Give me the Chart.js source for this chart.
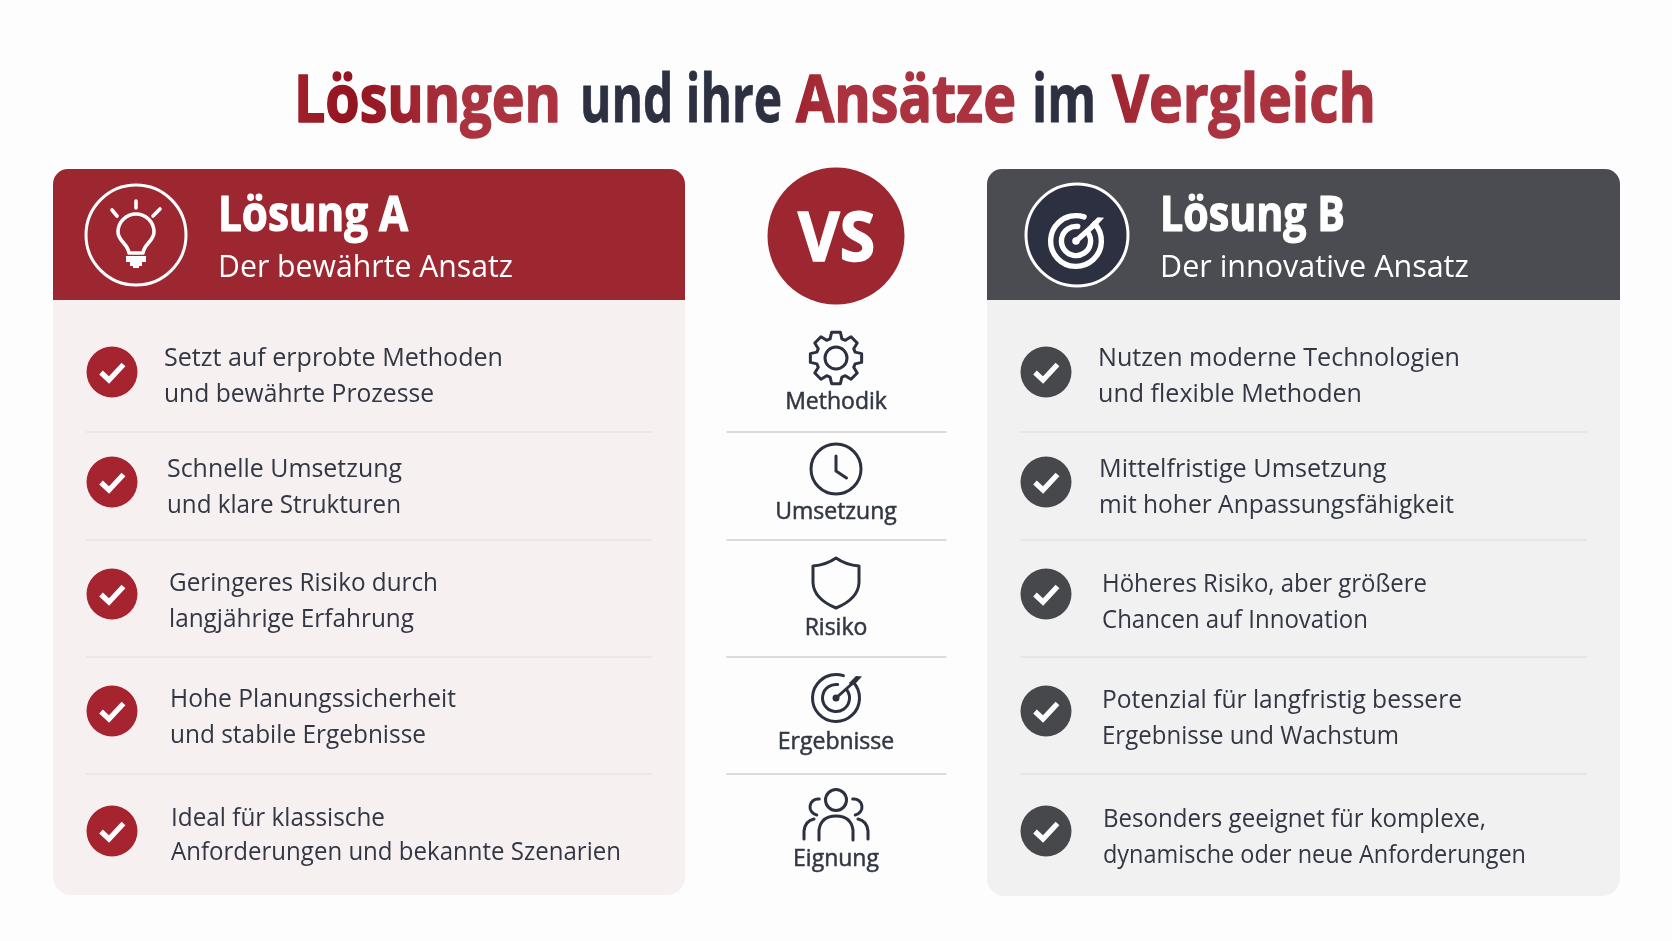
<!DOCTYPE html>
<html lang="de">
<head>
<meta charset="utf-8">
<title>Lösungen und ihre Ansätze im Vergleich</title>
<script src="https://cdn.jsdelivr.net/npm/chart.js@4"></script>
<style>
html, body { margin: 0; padding: 0; background: #fdfdfd; }
canvas { display: block; }
</style>
</head>
<body>
<canvas id="mycanvas" width="1672" height="941"></canvas>
<script>
// data
var titleWords = ['Lösungen', 'und ihre', 'Ansätze', 'im', 'Vergleich'];
var columns = ['Lösung A', 'Kriterium', 'Lösung B'];
var criteria = ['Methodik', 'Umsetzung', 'Risiko', 'Ergebnisse', 'Eignung'];
var taglines = ['Der bewährte Ansatz', 'Der innovative Ansatz'];
var pointsA = [
	['Setzt auf erprobte Methoden', 'und bewährte Prozesse'],
	['Schnelle Umsetzung', 'und klare Strukturen'],
	['Geringeres Risiko durch', 'langjährige Erfahrung'],
	['Hohe Planungssicherheit', 'und stabile Ergebnisse'],
	['Ideal für klassische', 'Anforderungen und bekannte Szenarien']
];
var pointsB = [
	['Nutzen moderne Technologien', 'und flexible Methoden'],
	['Mittelfristige Umsetzung', 'mit hoher Anpassungsfähigkeit'],
	['Höheres Risiko, aber größere', 'Chancen auf Innovation'],
	['Potenzial für langfristig bessere', 'Ergebnisse und Wachstum'],
	['Besonders geeignet für komplexe,', 'dynamische oder neue Anforderungen']
];

// layout of the sheet, in pixels
var FONT = '"Open Sans", sans-serif';
var RED = '#9d2731', GREY = '#4b4c51', INK = '#333744', DARK = '#2c3040';
var stops = {
	x: [112, 836, 1046],
	y: [372, 482, 594, 711, 831],
	yIcon: [358, 469, 583, 698, 815]
};
var rowEdges = [432, 540, 657, 774];
var labelY = [409, 519, 635, 749, 866];
var panels = [
	{ x: 53, w: 632, bottom: 895, head: RED, body: '#f7f0f1', rule: '#e5d9da', ruleX: [86, 652] },
	{ x: 987, w: 633, bottom: 896, head: GREY, body: '#f1f1f2', rule: '#dcdcde', ruleX: [1020, 1587] }
];
var textX = [[164, 167, 169, 170, 171], [1098, 1099, 1102, 1102, 1103]];
var line1Y = [[366, 477, 591, 707, 826], [366, 477, 592, 708, 827]];
var line2Y = [[402, 513, 627, 743, 860], [402, 513, 628, 744, 863]];
// right ends of the text lines
var line1End = [[503, 402, 438, 456, 385], [1460, 1387, 1427, 1462, 1486]];
var line2End = [[434, 401, 414, 426, 621], [1362, 1454, 1368, 1399, 1526]];

// category scale whose categories sit at given pixel stops
class PlacedScale extends Chart.CategoryScale {
	getPixelForValue(value) {
		if (typeof value !== 'number') value = this.parse(value);
		return stops[this.id][value];
	}
}
PlacedScale.id = 'placed';
PlacedScale.defaults = Chart.CategoryScale.defaults;
Chart.register(PlacedScale);

function iconCanvas(size, draw) {
	var c = document.createElement('canvas');
	c.width = size;
	c.height = size;
	var g = c.getContext('2d');
	g.translate(size / 2, size / 2);
	g.lineCap = 'round';
	g.lineJoin = 'round';
	draw(g);
	return c;
}

function checkDisc(colour) {
	return iconCanvas(56, function(g) {
		g.fillStyle = colour;
		g.beginPath();
		g.arc(0, 0, 25.5, 0, Math.PI * 2);
		g.fill();
		g.strokeStyle = '#ffffff';
		g.lineWidth = 5.2;
		g.lineCap = 'butt';
		g.lineJoin = 'miter';
		g.beginPath();
		g.moveTo(-11, 0.5);
		g.lineTo(-3, 8);
		g.lineTo(11.5, -7.5);
		g.stroke();
	});
}

function gearIcon(g) {
	var outer = 26, root = 20, teeth = 8;
	g.beginPath();
	for (var i = 0; i < teeth; i++) {
		var a = -Math.PI / 2 + i * 2 * Math.PI / teeth;
		var pts = [[root, -0.30], [outer, -0.17], [outer, 0.17], [root, 0.30]];
		for (var j = 0; j < pts.length; j++) {
			var px = pts[j][0] * Math.cos(a + pts[j][1]);
			var py = pts[j][0] * Math.sin(a + pts[j][1]);
			if (i === 0 && j === 0) g.moveTo(px, py); else g.lineTo(px, py);
		}
	}
	g.closePath();
	g.stroke();
	g.beginPath();
	g.arc(0, 0, 11, 0, Math.PI * 2);
	g.stroke();
}

function clockIcon(g) {
	g.beginPath();
	g.arc(0, 0, 25, 0, Math.PI * 2);
	g.stroke();
	g.beginPath();
	g.moveTo(0, -13);
	g.lineTo(0, 2);
	g.lineTo(10.5, 9);
	g.stroke();
}

function shieldIcon(g) {
	g.beginPath();
	g.moveTo(0, -25);
	g.quadraticCurveTo(10, -18, 23, -17);
	g.lineTo(23, 0);
	g.quadraticCurveTo(22, 16, 0, 25);
	g.quadraticCurveTo(-22, 16, -23, 0);
	g.lineTo(-23, -17);
	g.quadraticCurveTo(-10, -18, 0, -25);
	g.closePath();
	g.stroke();
}

// target with an arrow, scale 1 is the size of the middle column icon
function targetIcon(g, colour, scale) {
	g.save();
	g.scale(scale, scale);
	g.strokeStyle = colour;
	g.fillStyle = colour;
	g.beginPath();
	g.arc(0, 0, 23.5, -0.75, Math.PI * 2 - 1.25);
	g.stroke();
	g.beginPath();
	g.arc(0, 0, 13.5, -0.6, Math.PI * 2 - 1.45);
	g.stroke();
	g.beginPath();
	g.arc(0, 0, 3.5, 0, Math.PI * 2);
	g.fill();
	g.beginPath();
	g.moveTo(0, 0);
	g.lineTo(18, -16);
	g.stroke();
	g.beginPath();
	g.moveTo(13, -15);
	g.lineTo(20, -22);
	g.lineTo(26, -21.5);
	g.lineTo(20, -15);
	g.lineTo(15, -12);
	g.closePath();
	g.fill();
	g.restore();
}

function peopleIcon(g) {
	g.beginPath();
	g.arc(0, -15, 10.5, 0, Math.PI * 2);
	g.stroke();
	// side heads
	g.beginPath();
	g.arc(-18, -8, 8, Math.PI * 0.55, Math.PI * 1.55);
	g.stroke();
	g.beginPath();
	g.arc(18, -8, 8, -Math.PI * 0.55, Math.PI * 0.45);
	g.stroke();
	// shoulders
	g.beginPath();
	g.moveTo(-17, 25);
	g.lineTo(-17, 15);
	g.quadraticCurveTo(-15, 1, 0, 1);
	g.quadraticCurveTo(15, 1, 17, 15);
	g.lineTo(17, 25);
	g.stroke();
	g.beginPath();
	g.moveTo(-32, 24);
	g.lineTo(-32, 16);
	g.quadraticCurveTo(-31, 6, -22, 4);
	g.stroke();
	g.beginPath();
	g.moveTo(32, 24);
	g.lineTo(32, 16);
	g.quadraticCurveTo(31, 6, 22, 4);
	g.stroke();
}

function middleIcon(draw) {
	return iconCanvas(80, function(g) {
		g.strokeStyle = DARK;
		g.lineWidth = 3;
		draw(g);
	});
}

var icons = [
	middleIcon(gearIcon),
	middleIcon(clockIcon),
	middleIcon(shieldIcon),
	middleIcon(function(g) { targetIcon(g, DARK, 1); }),
	middleIcon(peopleIcon)
];

function bulbIcon(g) {
	g.strokeStyle = '#ffffff';
	g.fillStyle = '#ffffff';
	g.lineCap = 'round';
	g.lineJoin = 'round';
	g.lineWidth = 3.6;
	g.beginPath();
	g.moveTo(129, 253);
	g.bezierCurveTo(128, 244, 118, 241, 118, 232);
	g.arc(136, 232, 18, Math.PI, 0);
	g.bezierCurveTo(154, 241, 144, 244, 143, 253);
	g.closePath();
	g.stroke();
	g.fillRect(126, 256, 20, 6);
	g.fillRect(130, 262, 12, 4);
	g.fillRect(133, 266, 6, 2);
	g.beginPath();
	g.moveTo(136, 201); g.lineTo(136, 208);
	g.moveTo(112, 210); g.lineTo(117, 216);
	g.moveTo(160, 209); g.lineTo(153, 216);
	g.stroke();
}

function rounded(ctx, x, y, w, h, rt, rb) {
	ctx.beginPath();
	ctx.roundRect(x, y, w, h, [rt, rt, rb, rb]);
}

// heavy = width of a stroke that thickens the letters
function word(ctx, text, x, right, y, colour, font, heavy) {
	ctx.font = font;
	ctx.fillStyle = colour;
	ctx.textAlign = 'left';
	ctx.fillText(text, x, y, right - x);
	if (heavy) {
		ctx.strokeStyle = colour;
		ctx.lineWidth = heavy;
		ctx.lineJoin = 'round';
		ctx.strokeText(text, x, y, right - x);
	}
}

function redWord(ctx, x, right) {
	var grad = ctx.createLinearGradient(x, 0, right, 0);
	grad.addColorStop(0, '#ab2a36');
	grad.addColorStop(0.5, '#92141f');
	grad.addColorStop(1, '#ab3340');
	return grad;
}

var sheet = {
	id: 'sheet',
	beforeDatasetsDraw: function(chart) {
		var ctx = chart.ctx;
		ctx.save();
		ctx.fillStyle = '#fdfdfd';
		ctx.fillRect(0, 0, chart.width, chart.height);
		ctx.textBaseline = 'alphabetic';

		// title
		var bold = '700 67px ' + FONT;
		word(ctx, titleWords[0], 294, 561, 122, redWord(ctx, 294, 561), bold, 1.6);
		word(ctx, titleWords[1], 580, 782, 122, DARK, bold, 0.8);
		word(ctx, titleWords[2], 796, 1016, 122, redWord(ctx, 796, 1016), bold, 1.6);
		word(ctx, titleWords[3], 1032, 1096, 122, DARK, bold, 0.8);
		word(ctx, titleWords[4], 1112, 1376, 122, redWord(ctx, 1112, 1376), bold, 1.6);

		// panels
		for (var p = 0; p < panels.length; p++) {
			var pan = panels[p];
			ctx.fillStyle = pan.body;
			rounded(ctx, pan.x, 169, pan.w, pan.bottom - 169, 15, 18);
			ctx.fill();
			ctx.fillStyle = pan.head;
			rounded(ctx, pan.x, 169, pan.w, 131, 15, 0);
			ctx.fill();
			ctx.strokeStyle = pan.rule;
			ctx.lineWidth = 1.2;
			for (var r = 0; r < rowEdges.length; r++) {
				ctx.beginPath();
				ctx.moveTo(pan.ruleX[0], rowEdges[r]);
				ctx.lineTo(pan.ruleX[1], rowEdges[r]);
				ctx.stroke();
			}
		}

		// header A
		word(ctx, columns[0], 218, 408, 231, '#ffffff', '700 48px ' + FONT, 1.2);
		word(ctx, taglines[0], 218, 513, 277, '#ffffff', '400 30.5px ' + FONT);
		ctx.strokeStyle = '#ffffff';
		ctx.lineWidth = 3;
		ctx.beginPath();
		ctx.arc(136, 235, 50, 0, Math.PI * 2);
		ctx.stroke();
		bulbIcon(ctx);

		// header B
		word(ctx, columns[2], 1160, 1345, 231, '#ffffff', '700 48px ' + FONT, 1.2);
		word(ctx, taglines[1], 1160, 1471, 277, '#ffffff', '400 30.5px ' + FONT);
		ctx.fillStyle = DARK;
		ctx.strokeStyle = '#ffffff';
		ctx.lineWidth = 3;
		ctx.beginPath();
		ctx.arc(1077, 235, 51, 0, Math.PI * 2);
		ctx.fill();
		ctx.stroke();
		ctx.save();
		ctx.translate(1076, 241);
		ctx.lineWidth = 5;
		ctx.lineCap = 'round';
		targetIcon(ctx, '#ffffff', 1.08);
		ctx.restore();

		// VS badge
		ctx.fillStyle = RED;
		ctx.beginPath();
		ctx.arc(836, 236, 68.5, 0, Math.PI * 2);
		ctx.fill();
		word(ctx, 'VS', 798, 875, 261, '#ffffff', '700 68px ' + FONT, 1.6);

		// middle column
		ctx.strokeStyle = '#cfcfd1';
		ctx.lineWidth = 1.4;
		for (var e = 0; e < rowEdges.length; e++) {
			ctx.beginPath();
			ctx.moveTo(727, rowEdges[e]);
			ctx.lineTo(946, rowEdges[e]);
			ctx.stroke();
		}
		ctx.restore();
	},
	afterDatasetsDraw: function(chart) {
		var ctx = chart.ctx;
		ctx.save();
		ctx.textBaseline = 'alphabetic';
		var lists = [pointsA, pointsB];
		for (var p = 0; p < lists.length; p++) {
			for (var i = 0; i < lists[p].length; i++) {
				ctx.font = '400 25.2px ' + FONT;
				ctx.fillStyle = INK;
				ctx.textAlign = 'left';
				ctx.fillText(lists[p][i][0], textX[p][i], line1Y[p][i], line1End[p][i] - textX[p][i]);
				ctx.fillText(lists[p][i][1], textX[p][i], line2Y[p][i], line2End[p][i] - textX[p][i]);
			}
		}
		ctx.font = '500 23px ' + FONT;
		ctx.fillStyle = INK;
		ctx.strokeStyle = INK;
		ctx.lineWidth = 0.5;
		ctx.textAlign = 'center';
		for (var c = 0; c < criteria.length; c++) {
			ctx.fillText(criteria[c], 836, labelY[c]);
			ctx.strokeText(criteria[c], 836, labelY[c]);
		}
		ctx.restore();
	}
};

function column(name) {
	return criteria.map(function(c) { return { x: name, y: c }; });
}

var chart = new Chart(document.getElementById('mycanvas'), {
	type: 'scatter',
	data: {
		datasets: [
			{ label: columns[0], data: column(columns[0]), pointStyle: checkDisc('#a5242f'), pointRadius: 26 },
			{ label: columns[2], data: column(columns[2]), pointStyle: checkDisc('#47484c'), pointRadius: 26 },
			{ label: columns[1], data: column(columns[1]), yAxisID: 'yIcon', pointStyle: icons, pointRadius: 26 }
		]
	},
	options: {
		responsive: false,
		animation: false,
		devicePixelRatio: 1,
		events: [],
		layout: { padding: 0 },
		plugins: { legend: { display: false }, tooltip: { enabled: false } },
		scales: {
			x: { type: 'placed', labels: columns, display: false },
			y: { type: 'placed', labels: criteria, display: false },
			yIcon: { type: 'placed', axis: 'y', labels: criteria, display: false }
		}
	},
	plugins: [sheet]
});
</script>
</body>
</html>
